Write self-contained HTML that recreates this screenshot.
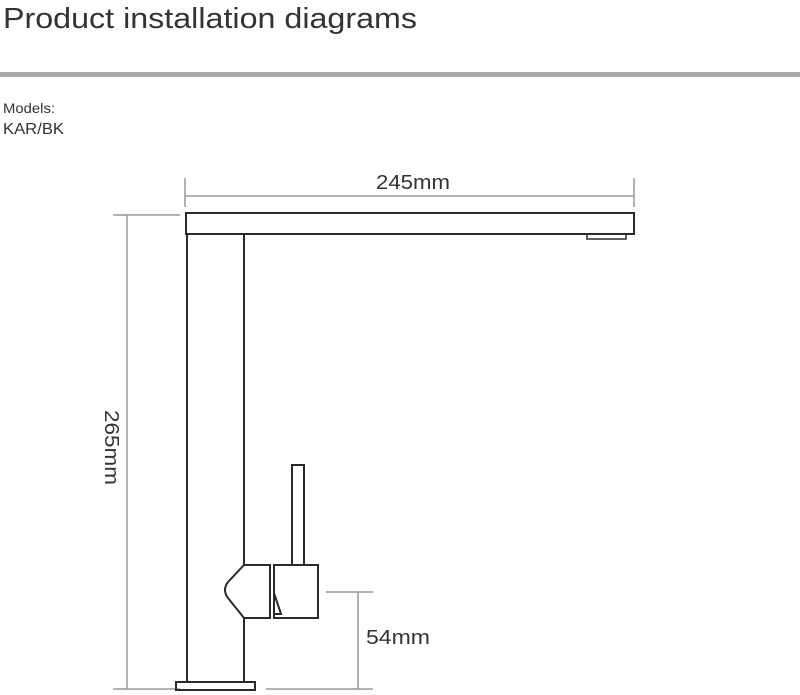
<!DOCTYPE html>
<html><head><style>
html,body{margin:0;padding:0;background:#fff;width:800px;height:695px;overflow:hidden}
</style></head><body>
<svg width="800" height="695" viewBox="0 0 800 695" xmlns="http://www.w3.org/2000/svg" font-family="Liberation Sans, sans-serif">
<text x="3" y="28" font-size="29" fill="#333" textLength="414" lengthAdjust="spacingAndGlyphs">Product installation diagrams</text>
<rect x="0" y="72" width="800" height="5" fill="#aaa"/>
<text x="3" y="113" font-size="14" fill="#333" textLength="52" lengthAdjust="spacingAndGlyphs">Models:</text>
<text x="3" y="134" font-size="16" fill="#333" textLength="61" lengthAdjust="spacingAndGlyphs">KAR/BK</text>
<g stroke="#999" stroke-width="1.5" fill="none">
<line x1="185" y1="178" x2="185" y2="207"/>
<line x1="634" y1="178" x2="634" y2="207"/>
<line x1="185" y1="196" x2="634" y2="196"/>
<line x1="113" y1="215" x2="180" y2="215"/>
<line x1="127" y1="215" x2="127" y2="689"/>
<line x1="113" y1="689" x2="180" y2="689"/>
<line x1="326" y1="592" x2="373" y2="592"/>
<line x1="266" y1="689" x2="373" y2="689"/>
<line x1="358" y1="592" x2="358" y2="689"/>
</g>
<text x="376" y="189" font-size="20" fill="#333" textLength="74" lengthAdjust="spacingAndGlyphs">245mm</text>
<text transform="translate(105,410) rotate(90)" font-size="20" fill="#333" textLength="75" lengthAdjust="spacingAndGlyphs">265mm</text>
<text x="366" y="644" font-size="20" fill="#333" textLength="64" lengthAdjust="spacingAndGlyphs">54mm</text>
<g stroke="#2a2a2a" stroke-width="2" fill="none" stroke-linejoin="miter">
<rect x="186" y="213" width="448" height="21"/>
<rect x="587" y="234" width="39" height="5" stroke-width="1.5"/>
<line x1="187" y1="234" x2="187" y2="682"/>
<line x1="244" y1="234" x2="244" y2="565"/>
<line x1="244" y1="618" x2="244" y2="682"/>
<rect x="176" y="682" width="79" height="8"/>
<path d="M244 565 L270 565 L270 618 L244 618 L228 598 Q222 590 228 582 Z"/>
<rect x="274" y="565" width="44" height="53"/>
<path d="M274 593 L281 614 L274 614"/>
<rect x="292" y="465" width="12" height="100"/>
</g>
</svg>
</body></html>
